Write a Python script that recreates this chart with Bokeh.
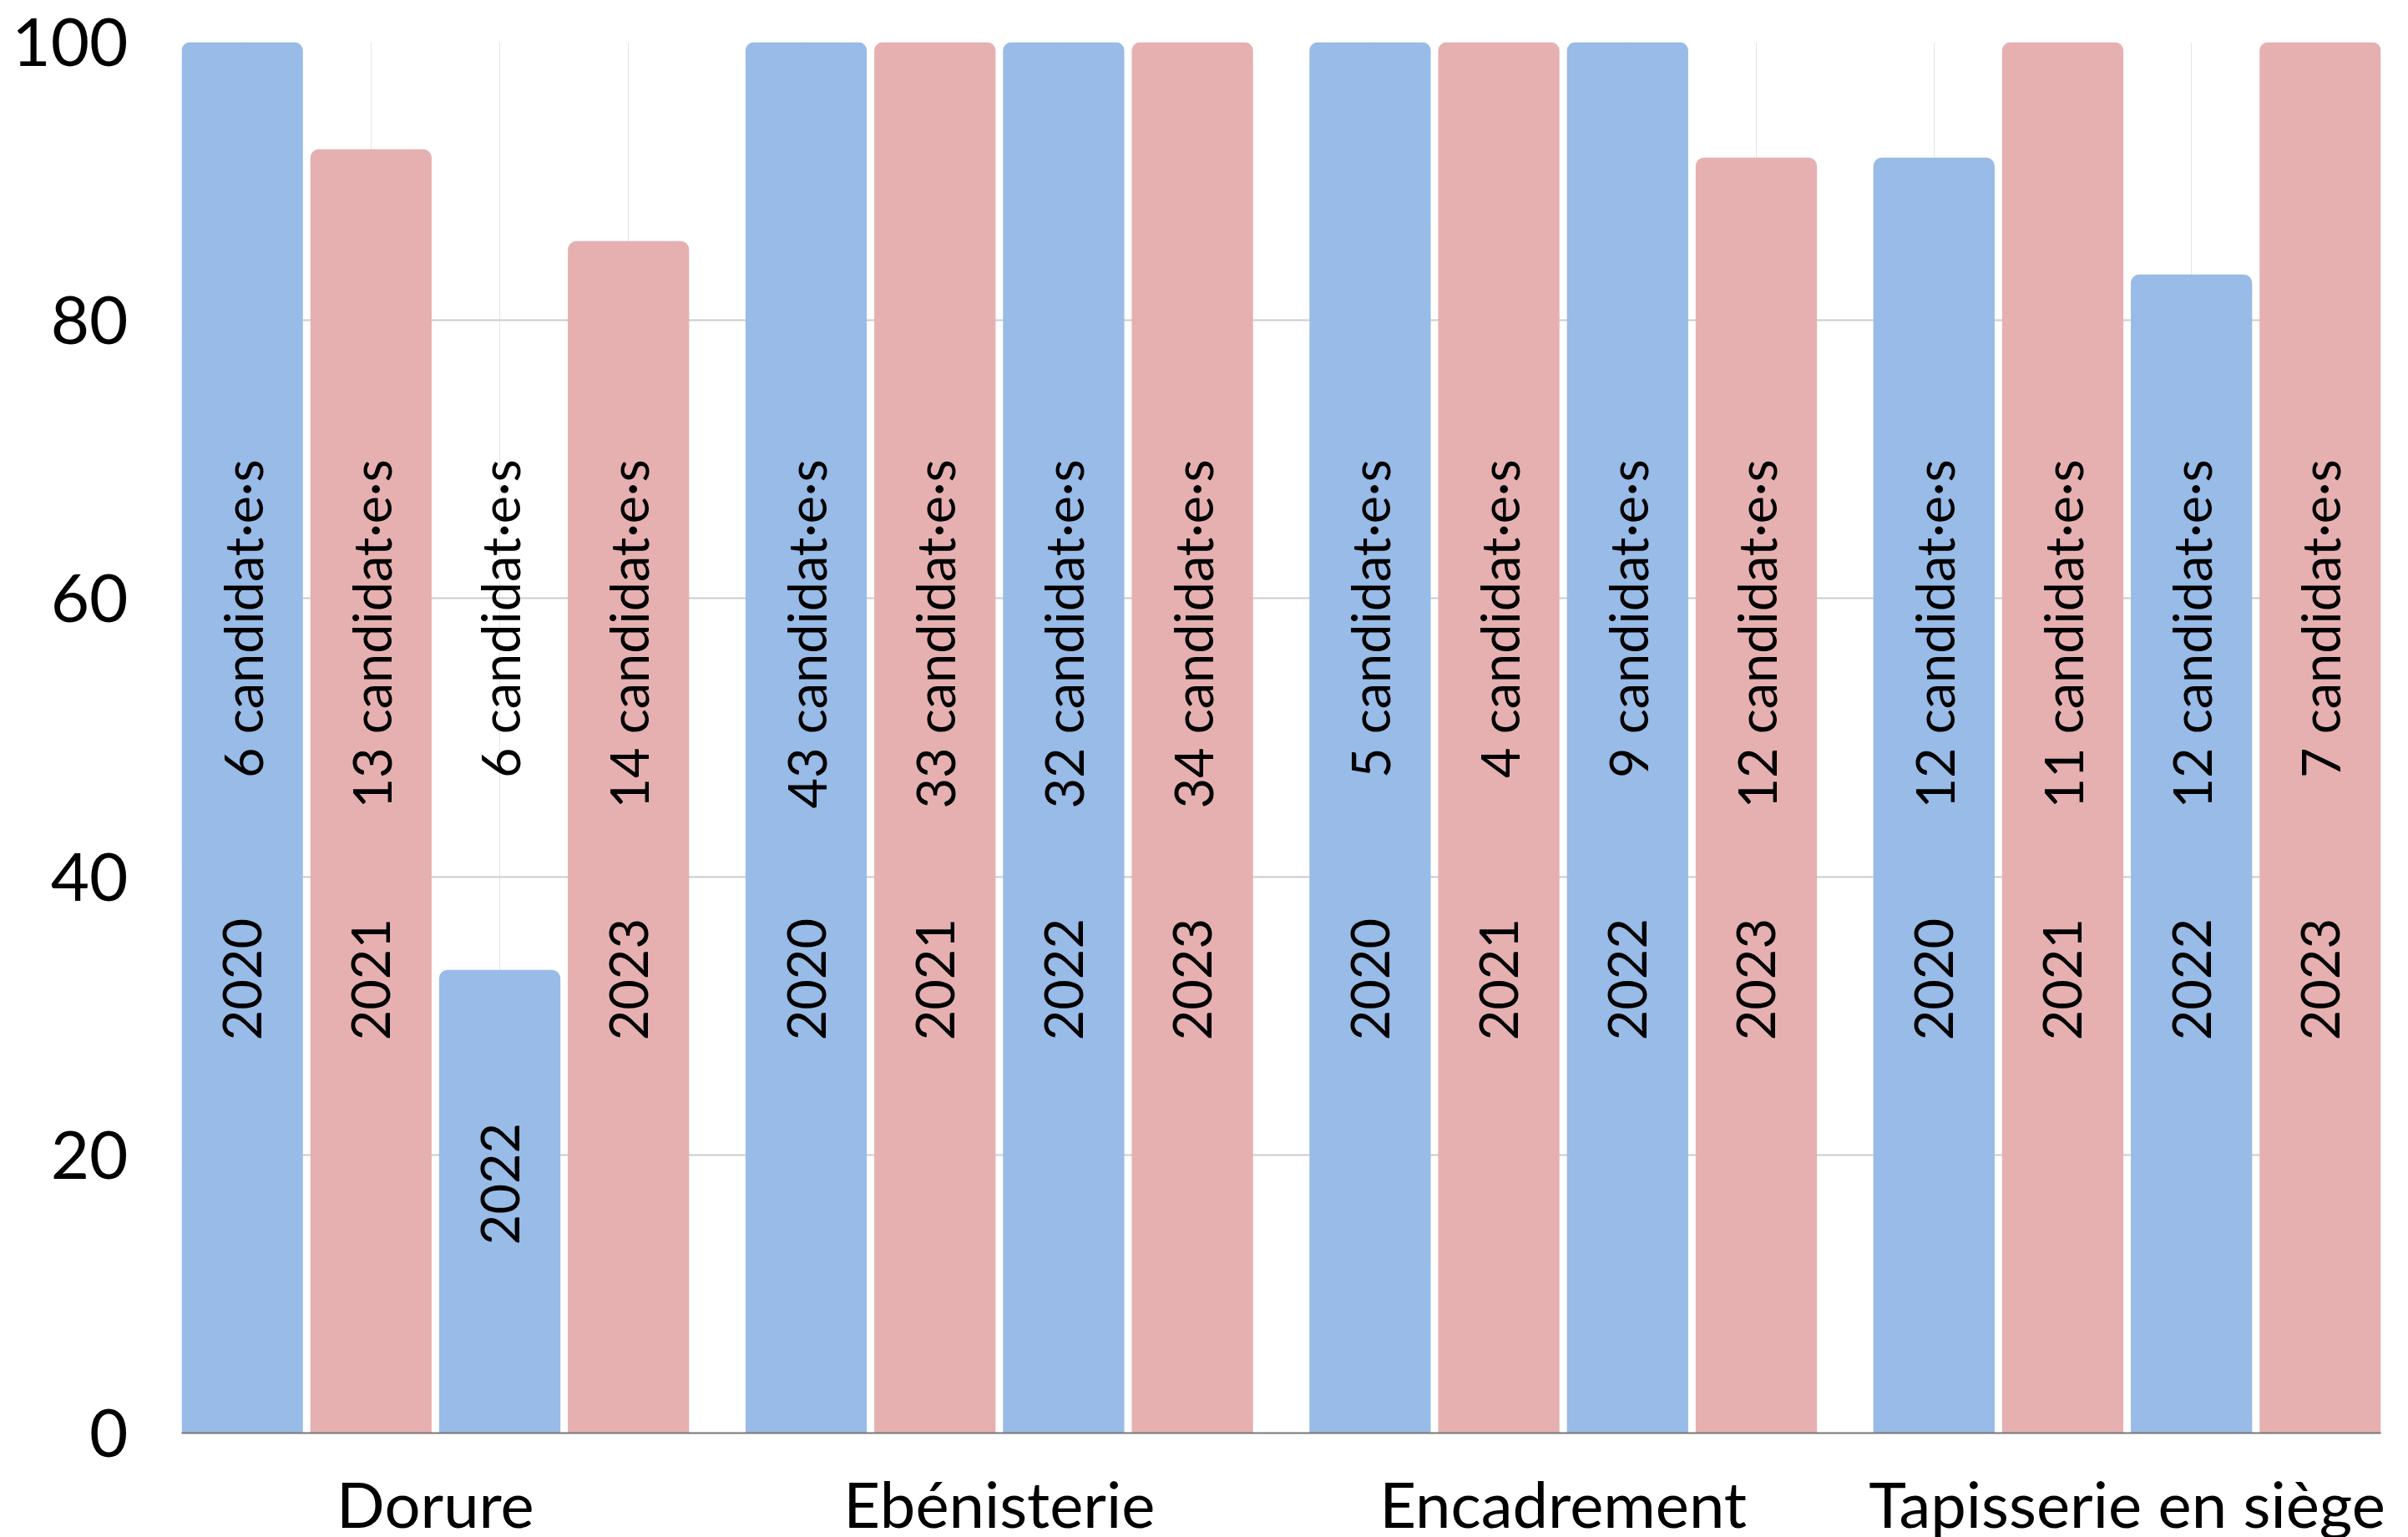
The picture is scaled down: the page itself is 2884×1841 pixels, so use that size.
import math
from bokeh.plotting import figure
from bokeh.models import (ColumnDataSource, FactorRange, Range1d, FixedTicker,
                          CategoricalAxis)
from bokeh.core.properties import value
from bokeh.embed import file_html
from bokeh.resources import INLINE

categories = ["Dorure", "Ebénisterie", "Encadrement", "Tapisserie en siège"]
years = ["2020", "2021", "2022", "2023"]
# success rate (%) per category, per year
rates = {
    "Dorure":              [100, 92.3, 33.3, 85.7],
    "Ebénisterie":         [100, 100, 100, 100],
    "Encadrement":         [100, 100, 100, 91.7],
    "Tapisserie en siège": [91.7, 100, 83.3, 100],
}
# number of candidates per category, per year
candidates = {
    "Dorure":              [6, 13, 6, 14],
    "Ebénisterie":         [43, 33, 32, 34],
    "Encadrement":         [5, 4, 9, 12],
    "Tapisserie en siège": [12, 11, 12, 7],
}
year_colors = ["#98BBE7", "#E6B0B1", "#98BBE7", "#E6B0B1"]
y_ticks = [0, 20, 40, 60, 80, 100]

FONT = "Lato"

xs, tops, cols, cand_txt, year_txt, year_y, cand_y = [], [], [], [], [], [], []
for c in categories:
    for i, y in enumerate(years):
        v = rates[c][i]
        xs.append((c, y))
        tops.append(v)
        cols.append(year_colors[i])
        cand_txt.append(f"{candidates[c][i]} candidat·e·s")
        year_txt.append(y)
        year_y.append(min(37, v - 11))
        cand_y.append(70)

src = ColumnDataSource(dict(x=xs, top=tops, color=cols, cand=cand_txt,
                            year=year_txt, year_y=year_y, cand_y=cand_y))

x_range = FactorRange(*xs, factor_padding=0.0, group_padding=0.38,
                      range_padding=-0.029, range_padding_units="absolute")

p = figure(x_range=x_range, y_range=Range1d(0, 100),
           frame_width=2634, frame_height=1666,
           min_border_left=217, min_border_top=50, min_border_right=25,
           min_border_bottom=125, x_axis_location=None,
           output_backend="svg", toolbar_location=None)
p.outline_line_color = None
p.background_fill_color = "white"
p.border_fill_color = "white"

# category axis on a range whose factor centres coincide with group centres
p.extra_x_ranges = {"cat": FactorRange(*categories, factor_padding=0.0,
                                       range_padding=-0.05,
                                       range_padding_units="absolute")}
xa = CategoricalAxis(x_range_name="cat")
xa.axis_line_color = "#777777"
xa.axis_line_width = 2
xa.major_tick_line_color = None
xa.minor_tick_line_color = None
xa.major_label_text_font = FONT
xa.major_label_text_font_style = "normal"
xa.major_label_text_font_size = "76px"
xa.major_label_text_color = "black"
xa.major_label_standoff = 32
p.add_layout(xa, "below")

p.vbar(x="x", top="top", width=0.942, source=src, fill_color="color",
       line_color=None, border_radius=(10, 10, 0, 0))

p.text(x="x", y="cand_y", text="cand", source=src, angle=math.pi / 2,
       text_align="right", text_baseline="middle", text_font=value(FONT),
       text_font_size="63px", text_color="black")
p.text(x="x", y="year_y", text="year", source=src, angle=math.pi / 2,
       text_align="right", text_baseline="middle", text_font=value(FONT),
       text_font_size="63px", text_color="black")

# y axis
p.yaxis.ticker = FixedTicker(ticks=y_ticks)
p.yaxis.axis_line_color = None
p.yaxis.major_tick_line_color = None
p.yaxis.minor_tick_line_color = None
p.yaxis.major_label_text_font = FONT
p.yaxis.major_label_text_font_size = "80px"
p.yaxis.major_label_text_color = "black"
p.yaxis.major_label_standoff = 58

p.ygrid.ticker = FixedTicker(ticks=y_ticks)
p.ygrid.grid_line_color = "#cccccc"
p.ygrid.grid_line_width = 2

open("out.html", "w").write(file_html(p, INLINE))
